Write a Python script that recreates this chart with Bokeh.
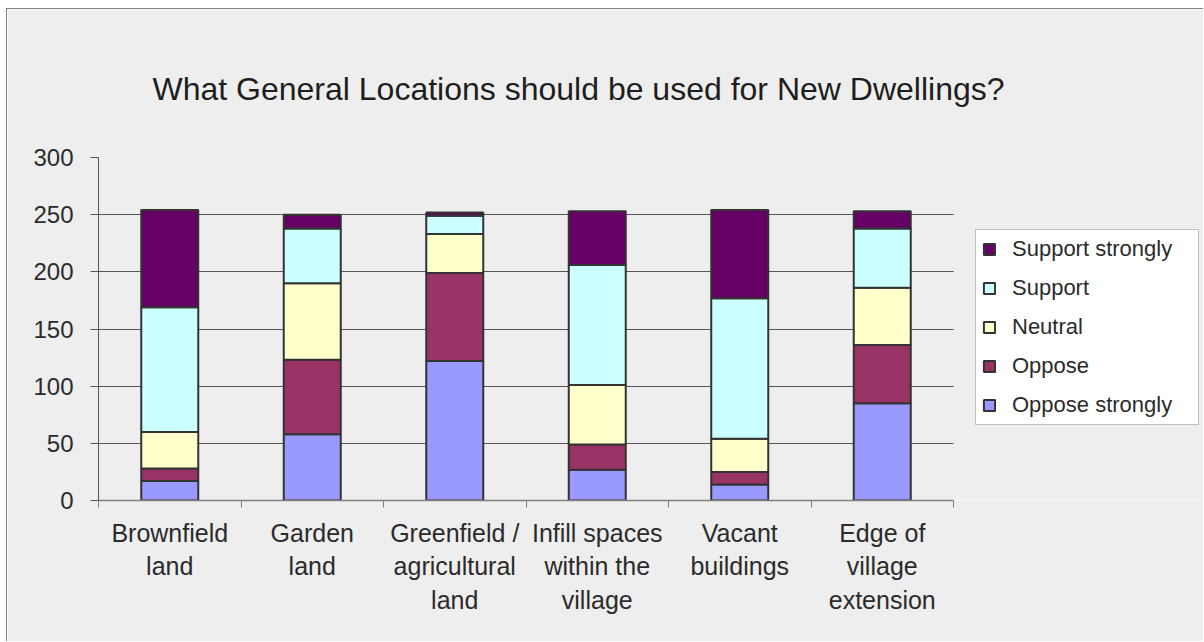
from bokeh.plotting import figure
from bokeh.models import FixedTicker, Legend, LegendItem, Title, ColumnDataSource
from bokeh.embed import file_html
from bokeh.resources import INLINE

# ---- data ----
categories = ["Brownfield\nland", "Garden\nland", "Greenfield /\nagricultural\nland",
              "Infill spaces\nwithin the\nvillage", "Vacant\nbuildings", "Edge of\nvillage\nextension"]
oppose_strongly = [17, 58, 122, 27, 14, 85]
oppose = [11, 65, 77, 22, 11, 51]
neutral = [32, 67, 34, 52, 29, 50]
support = [109, 48, 16, 105, 123, 52]
support_strongly = [85, 12, 3, 47, 77, 15]
series_names = ["Oppose strongly", "Oppose", "Neutral", "Support", "Support strongly"]
y_ticks = [0, 50, 100, 150, 200, 250, 300]
title_text = "What General Locations should be used for New Dwellings?"

# ---- styles / layout ----
colors = ["#9999FF", "#993366", "#FFFFCC", "#CCFFFF", "#660066"]
keys = ["os", "o", "n", "s", "ss"]
FONT = "Liberation Sans"
TXT = "#2b2b2b"

W, H = 1197, 633
LEFT, TOP, BOTTOM = 91, 148, 142
PLOT_AREA_W = 855                      # width of the category area in px
frame_w = W - LEFT                     # frame reaches the right edge (legend lives inside)
n = len(categories)
x_start = -0.5
x_end = x_start + n * frame_w / PLOT_AREA_W
cat_bounds = (x_start, x_start + n)

xs = list(range(n))
source = ColumnDataSource(dict(x=xs, os=oppose_strongly, o=oppose, n=neutral,
                               s=support, ss=support_strongly))

p = figure(width=W, height=H, x_range=(x_start, x_end), y_range=(0, 300),
           output_backend="svg", toolbar_location=None,
           min_border_left=LEFT, min_border_right=0, min_border_top=TOP, min_border_bottom=BOTTOM)
p.background_fill_color = "#EEEEEE"
p.border_fill_color = "#EEEEEE"
p.outline_line_color = None
p.styles = {"margin-left": "6px", "margin-top": "8px",
            "border-left": "1px solid #808080", "border-top": "1px solid #808080"}

# grid lines limited to the category area
grid = p.ygrid[0]
grid.ticker = FixedTicker(ticks=y_ticks)
if "cross_bounds" in grid.properties():
    grid.cross_bounds = cat_bounds
    grid.grid_line_color = "#555555"
    grid.grid_line_width = 1
else:
    grid.visible = False
    p.segment(x0=[cat_bounds[0]] * len(y_ticks), x1=[cat_bounds[1]] * len(y_ticks),
              y0=y_ticks, y1=y_ticks, line_color="#555555", line_width=1)

renderers = p.vbar_stack(keys, x="x", width=0.4, fill_color=colors, line_color="#333333",
                         line_width=2, source=source)

# title
p.add_layout(Title(text=title_text, align="left", offset=54, standoff=102,
                   text_font=FONT, text_font_size="32px", text_font_style="normal",
                   text_color="#1e1e1e"), "above")

# x axis
p.xaxis.bounds = cat_bounds
p.xaxis.ticker = FixedTicker(ticks=xs, minor_ticks=[x - 0.5 for x in xs] + [xs[-1] + 0.5])
p.xaxis.major_label_overrides = {x: c for x, c in zip(xs, categories)}
p.xaxis.major_tick_out = 0
p.xaxis.major_tick_in = 0
p.xaxis.minor_tick_out = 7
p.xaxis.minor_tick_in = 0
p.xaxis.minor_tick_line_color = "#808080"
p.xaxis.axis_line_color = "#808080"
p.xaxis.axis_line_width = 1.5
p.xaxis.major_label_standoff = 11
p.xaxis.major_label_text_font = FONT
p.xaxis.major_label_text_font_size = "25px"
p.xaxis.major_label_text_color = TXT
p.xgrid.visible = False

# y axis
p.yaxis.ticker = FixedTicker(ticks=y_ticks)
p.yaxis.major_tick_out = 8
p.yaxis.major_tick_in = 0
p.yaxis.minor_tick_line_color = None
p.yaxis.axis_line_color = "#555555"
p.yaxis.major_tick_line_color = "#555555"
p.yaxis.major_label_standoff = 17
p.yaxis.major_label_text_font = FONT
p.yaxis.major_label_text_font_size = "24px"
p.yaxis.major_label_text_color = TXT

# legend (top item = top of stack), placed inside the wide frame to the right of the bars
items = [LegendItem(label=nm, renderers=[r]) for nm, r in zip(series_names, renderers)][::-1]
legend = Legend(items=items, location=(PLOT_AREA_W + 22, 75), orientation="vertical",
                background_fill_color="white", background_fill_alpha=1,
                border_line_color="#808080", border_line_width=1,
                label_text_font=FONT, label_text_font_size="22px", label_text_color=TXT,
                glyph_width=14, glyph_height=14, label_standoff=16, spacing=13,
                padding=6, margin=0, label_height=25, label_width=180)
p.add_layout(legend)

open("out.html", "w").write(file_html(p, INLINE))
